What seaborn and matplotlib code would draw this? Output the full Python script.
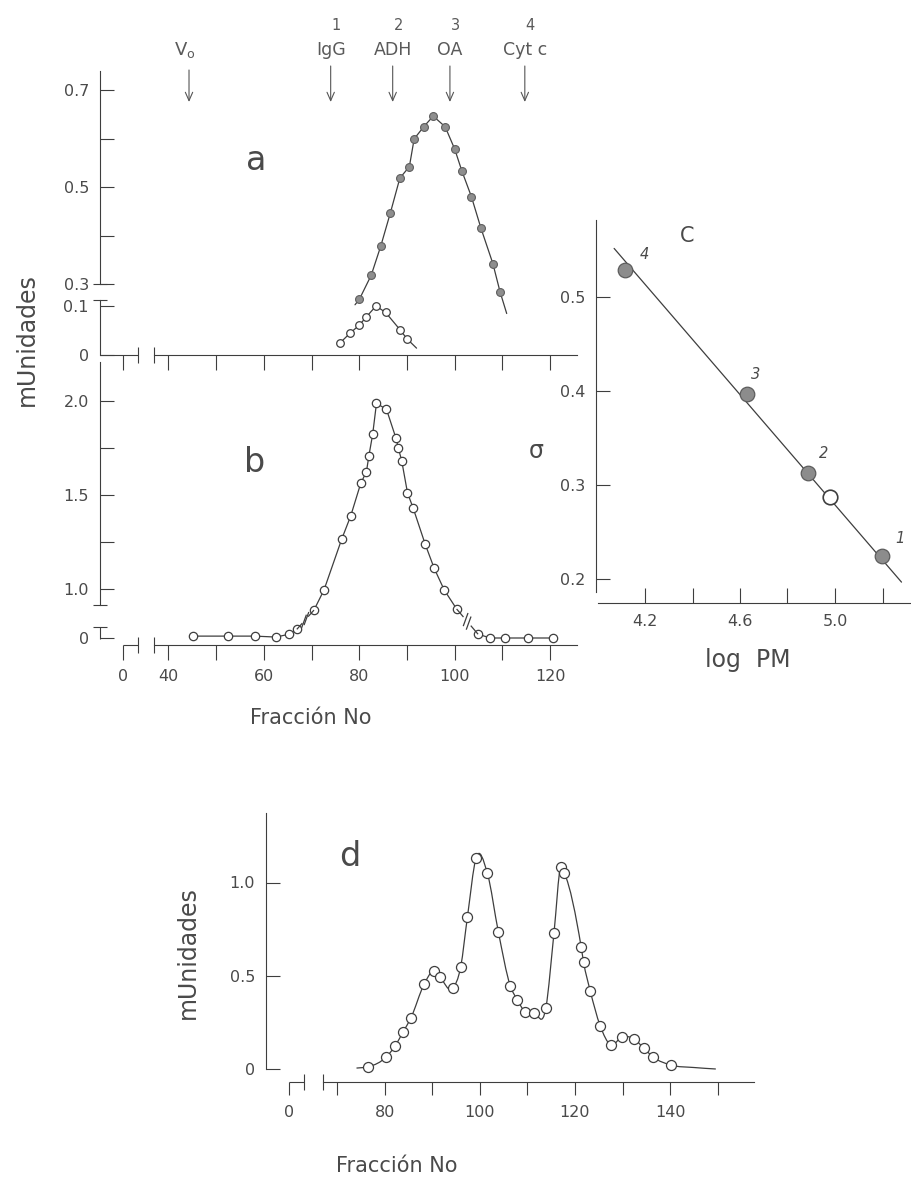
import numpy as np
import matplotlib
matplotlib.use("Agg")
import matplotlib.pyplot as plt
import seaborn as sns
from matplotlib.transforms import blended_transform_factory, IdentityTransform
from matplotlib.lines import Line2D
from matplotlib.path import Path
from matplotlib.patches import PathPatch

# ---------------- data ----------------
# calibration standards: elution fraction (arrows above panel a)
std_numbers = ["1", "2", "3", "4"]
std_names = ["IgG", "ADH", "OA", "Cyt c"]
std_elution = [74.0, 87.0, 99.0, 114.7]
void_elution = 44.3

# panel a: standard mixture (filled) and sample (open)
a_std_frac = [80.0, 82.5, 84.5, 86.5, 88.5, 90.5, 91.5, 93.5, 95.5, 98.0,
              100.0, 101.5, 103.5, 105.5, 108.0, 109.5]
a_std_act = [0.269, 0.319, 0.379, 0.447, 0.519, 0.543, 0.600, 0.625, 0.647, 0.625,
             0.579, 0.534, 0.481, 0.416, 0.343, 0.285]
a_std_trace_frac = [79.1, 110.9]
a_std_trace_act = [0.258, 0.240]
a_smp_frac = [76.0, 78.0, 80.0, 81.5, 83.5, 85.5, 88.5, 90.0]
a_smp_act = [0.025, 0.044, 0.061, 0.078, 0.100, 0.087, 0.052, 0.033]
a_smp_trace_frac = [92.0]
a_smp_trace_act = [0.014]

# panel b
b_frac = [45.2, 52.5, 58.1, 62.5, 65.3, 66.9, 70.5, 72.6, 76.3, 78.2, 80.3, 81.5,
          82.0, 82.8, 83.6, 85.7, 87.7, 88.2, 88.9, 90.1, 91.3, 93.8, 95.7, 97.8,
          100.4, 104.9, 107.5, 110.5, 115.4, 120.7]
b_act = [0.010, 0.010, 0.010, 0.005, 0.020, 0.046, 0.888, 0.995, 1.264, 1.388, 1.561, 1.623,
         1.706, 1.821, 1.986, 1.954, 1.800, 1.747, 1.680, 1.511, 1.429, 1.239, 1.110, 0.995,
         0.894, 0.020, 0.0, 0.0, 0.0, 0.0]

# panel c: partition coefficient vs log molecular weight
c_labels = ["1", "2", "3", "4"]
c_logpm = [5.197, 4.887, 4.628, 4.115]
c_sigma = [0.225, 0.313, 0.397, 0.529]
c_sample_logpm = [4.98]
c_sample_sigma = [0.288]
c_fit_logpm = [4.07, 5.28]
c_fit_sigma = [0.552, 0.197]

# panel d
d_frac = [76.6, 80.4, 82.2, 83.9, 85.5, 88.3, 90.4, 91.6, 94.3, 96.0, 97.4, 99.2,
          101.6, 103.9, 106.4, 107.9, 109.5, 111.4, 113.9, 115.6, 117.0, 117.8, 121.3,
          121.8, 123.2, 125.3, 127.5, 129.9, 132.5, 134.5, 136.5, 140.2]
d_act = [0.012, 0.066, 0.123, 0.200, 0.272, 0.454, 0.527, 0.495, 0.433, 0.549, 0.814, 1.130,
         1.049, 0.736, 0.447, 0.370, 0.307, 0.299, 0.329, 0.731, 1.085, 1.049, 0.655,
         0.575, 0.420, 0.232, 0.129, 0.173, 0.159, 0.111, 0.063, 0.021]
d_lead_frac = [74.1]
d_lead_act = [0.005]
d_tail_frac = [145.0, 149.6]
d_tail_act = [0.008, 0.0]

# ---------------- style ----------------
W, H, DPI = 911, 1181, 100
sns.set_theme(style="white")
plt.rcParams["font.family"] = ["DejaVu Sans"]
plt.rcParams["mathtext.fontset"] = "dejavusans"
INK = "#3e3e3e"
TXT = "#4a4a4a"
LW = 0.9
TICK_FS = 11.5

fig = plt.figure(figsize=(W / DPI, H / DPI), dpi=DPI)
fig.patch.set_facecolor("white")


def px_rect(l, t, r, b):
    return [l / W, 1 - b / H, (r - l) / W, (b - t) / H]


def piecewise(data_knots, view_knots):
    d = np.asarray(data_knots, float)
    v = np.asarray(view_knots, float)
    return (lambda x: np.interp(x, d, v)), (lambda x: np.interp(x, v, d))


def new_axes(rect):
    ax = fig.add_axes(px_rect(*rect))
    ax.patch.set_visible(False)
    for s in ax.spines.values():
        s.set_color(INK)
        s.set_linewidth(0.8)
    ax.spines["top"].set_visible(False)
    ax.spines["right"].set_visible(False)
    ax.grid(False)
    return ax


def style_ticks(ax, ydir="in", xdir="out", xpad=6.5, ypad=8):
    ax.tick_params(axis="y", which="both", direction=ydir, length=10, width=0.8,
                   color=INK, left=True, pad=ypad, labelsize=TICK_FS, labelcolor=TXT)
    ax.tick_params(axis="x", which="both", direction=xdir, length=11, width=0.8,
                   color=INK, bottom=True, pad=xpad, labelsize=TICK_FS, labelcolor=TXT)


def seg(ax, xs, ys, tr):
    ax.plot(xs, ys, transform=tr, color=INK, lw=0.8, clip_on=False,
            solid_capstyle="butt")


def ycap(ax, y, width_px, half=7):
    tr = blended_transform_factory(ax.transAxes, ax.transData)
    f = half / width_px
    seg(ax, [-f, f], [y, y], tr)


def xcap(ax, x, height_px, half=8):
    tr = blended_transform_factory(ax.transData, ax.transAxes)
    f = half / height_px
    seg(ax, [x, x], [-f, f], tr)


def pix_line(p, q, lw=LW):
    fig.add_artist(Line2D([p[0], q[0]], [p[1], q[1]], transform=IdentityTransform(),
                          color=INK, lw=lw, solid_capstyle="butt"))


def broken_link(ax, p_from, p_to):
    a = ax.transData.transform(p_from)
    b = ax.transData.transform(p_to)
    d = b - a
    pix_line(a, a + 0.32 * d)
    pix_line(a + 0.66 * d, b)
    ang = np.deg2rad(70)
    u = np.array([np.cos(ang), np.sin(ang)]) * 7
    for t in (0.42, 0.56):
        c = a + t * d
        pix_line(c - u, c + u)


def hermite_path(xs, ys):
    x = np.asarray(xs, float)
    y = np.asarray(ys, float)
    h = np.diff(x)
    s = np.diff(y) / h
    m = np.empty_like(y)
    m[0], m[-1] = s[0], s[-1]
    m[1:-1] = (s[1:] * h[:-1] + s[:-1] * h[1:]) / (h[:-1] + h[1:])
    verts, codes = [(x[0], y[0])], [Path.MOVETO]
    for i in range(len(x) - 1):
        verts += [(x[i] + h[i] / 3, y[i] + m[i] * h[i] / 3),
                  (x[i + 1] - h[i] / 3, y[i + 1] - m[i + 1] * h[i] / 3),
                  (x[i + 1], y[i + 1])]
        codes += [Path.CURVE4] * 3
    return Path(verts, codes)


def line(ax, xs, ys):
    sns.lineplot(x=xs, y=ys, ax=ax, color=INK, linewidth=LW, sort=False,
                 estimator=None, legend=False)


def dots(ax, xs, ys, s, face="white", edge=INK, lw=LW):
    sns.scatterplot(x=xs, y=ys, ax=ax, s=s, color=face, edgecolor=edge,
                    linewidth=lw, zorder=4, legend=False, clip_on=False)


# fraction axis with a break between 0 and the working range
frac_fwd, frac_inv = piecewise([-1000, 0, 3.1, 37, 1000], [-969.5, 30.5, 33.6, 37, 1000])
frac_ticks = [0, 40, 50, 60, 70, 80, 90, 100, 110, 120]
frac_labels = ["0", "40", "", "60", "", "80", "", "100", "", "120"]
AB_L, AB_R = 100, 580
u_left = 40 + (AB_L - 168.5) / 4.77
u_right = 40 + (AB_R - 168.5) / 4.77
ab_xlim = (float(frac_inv(u_left)), float(frac_inv(u_right)))

# ---------------- panel a ----------------
A_T, A_B = 60, 355
ax_a_hi = new_axes((AB_L, A_T, AB_R, A_B))
ax_a_lo = new_axes((AB_L, A_T, AB_R, A_B))
for ax in (ax_a_hi, ax_a_lo):
    ax.set_xscale("function", functions=(frac_fwd, frac_inv))
    style_ticks(ax)

line(ax_a_hi, [a_std_trace_frac[0]] + a_std_frac + [a_std_trace_frac[1]],
     [a_std_trace_act[0]] + a_std_act + [a_std_trace_act[1]])
dots(ax_a_hi, a_std_frac, a_std_act, s=32, face="#8e8e8e", edge="#5e5e5e", lw=0.8)
line(ax_a_lo, a_smp_frac + a_smp_trace_frac, a_smp_act + a_smp_trace_act)
dots(ax_a_lo, a_smp_frac, a_smp_act, s=30)

ax_a_hi.set_xlim(*ab_xlim)
ax_a_lo.set_xlim(*ab_xlim)
ax_a_hi.set_ylim(0.7 - (A_B - 90.4) / 485, 0.7 + (90.4 - A_T) / 485)
ax_a_lo.set_ylim(0, (A_B - A_T) / 490)

ax_a_hi.spines["bottom"].set_visible(False)
ax_a_hi.tick_params(axis="x", which="both", bottom=False, labelbottom=False)
ax_a_hi.set_yticks([0.3, 0.5, 0.7], ["0.3", "0.5", "0.7"])
ax_a_hi.set_yticks([0.4, 0.6], minor=True)
ax_a_hi.spines["left"].set_bounds(0.3, 0.741)
ycap(ax_a_hi, 0.3, AB_R - AB_L)

ax_a_lo.set_yticks([0, 0.1], ["0", "0.1"])
ax_a_lo.set_yticks([], minor=True)
ax_a_lo.spines["left"].set_bounds(0, 0.112)
ycap(ax_a_lo, 0.112, AB_R - AB_L)
ax_a_lo.set_xticks(frac_ticks, [""] * len(frac_ticks))
ax_a_lo.set_xticks([], minor=True)
ax_a_lo.spines["bottom"].set_bounds(37, float(frac_inv(40 + (577 - 168.5) / 4.77)))
tr = blended_transform_factory(ax_a_lo.transData, ax_a_lo.transAxes)
seg(ax_a_lo, [ab_xlim[0], 3.1], [0, 0], tr)
xcap(ax_a_lo, 3.1, A_B - A_T)
xcap(ax_a_lo, 37, A_B - A_T)
ax_a_lo.set_xlim(*ab_xlim)
ax_a_lo.set_ylim(0, (A_B - A_T) / 490)

# elution markers above panel a
for xe, num, name in zip(std_elution, std_numbers, std_names):
    ax_a_hi.annotate("", xy=(xe, H - 102), xycoords=("data", "figure pixels"),
                     xytext=(xe, H - 66), textcoords=("data", "figure pixels"),
                     arrowprops=dict(arrowstyle="->,head_length=0.5,head_width=0.22",
                                     color="#555555", lw=0.8, mutation_scale=12,
                                     shrinkA=0, shrinkB=0))
    ax_a_hi.annotate(name, xy=(xe, H - 50), xycoords=("data", "figure pixels"),
                     ha="center", va="center", fontsize=12.5, color="#5a5a5a")
    ax_a_hi.annotate(num, xy=(xe, H - 25), xycoords=("data", "figure pixels"),
                     xytext=(4, 0), textcoords="offset points",
                     ha="center", va="center", fontsize=10.5, color="#5a5a5a")
ax_a_hi.annotate("", xy=(void_elution, H - 102), xycoords=("data", "figure pixels"),
                 xytext=(void_elution, H - 70), textcoords=("data", "figure pixels"),
                 arrowprops=dict(arrowstyle="->,head_length=0.5,head_width=0.22",
                                 color="#555555", lw=0.8, mutation_scale=12,
                                 shrinkA=0, shrinkB=0))
ax_a_hi.annotate(r"V$_{\rm o}$", xy=(void_elution, H - 50),
                 xycoords=("data", "figure pixels"), xytext=(-3, 0),
                 textcoords="offset points", ha="center", va="center",
                 fontsize=13, color="#5a5a5a")

# ---------------- panel b ----------------
B_T, B_B = 358, 645
b_fwd, b_inv = piecewise([-1000, 0.07, 0.86, 1000], [-1000 + 0.7398, 0.8098, 0.86, 1000])
ax_b = new_axes((AB_L, B_T, AB_R, B_B))
ax_b.set_xscale("function", functions=(frac_fwd, frac_inv))
ax_b.set_yscale("function", functions=(b_fwd, b_inv))
style_ticks(ax_b)

low = np.asarray(b_act) < 0.07
runs, start = [], 0
for i in range(1, len(b_act)):
    if low[i] != low[i - 1]:
        runs.append((start, i))
        start = i
runs.append((start, len(b_act)))
for s0, s1 in runs:
    line(ax_b, b_frac[s0:s1], b_act[s0:s1])
dots(ax_b, b_frac, b_act, s=36)

v_bot = 2.0 - (B_B - 400.7) / 188.3
v_top = 2.0 + (400.7 - B_T) / 188.3
b_ylim = (float(b_inv(v_bot)), float(b_inv(v_top)))
ax_b.set_xlim(*ab_xlim)
ax_b.set_ylim(*b_ylim)
ax_b.set_yticks([0, 1.0, 1.5, 2.0], ["0", "1.0", "1.5", "2.0"])
ax_b.set_yticks([1.25, 1.75], minor=True)
ax_b.set_xticks(frac_ticks, frac_labels)
ax_b.set_xticks([], minor=True)
ax_b.spines["left"].set_bounds(0.915, 2.205)
ycap(ax_b, 0.915, AB_R - AB_L)
trl = blended_transform_factory(ax_b.transAxes, ax_b.transData)
seg(ax_b, [0, 0], [-0.004, 0.06], trl)
ycap(ax_b, 0.06, AB_R - AB_L)
ax_b.spines["bottom"].set_bounds(37, float(frac_inv(40 + (577 - 168.5) / 4.77)))
trb = blended_transform_factory(ax_b.transData, ax_b.transAxes)
seg(ax_b, [0, 3.1], [0, 0], trb)
xcap(ax_b, 3.1, B_B - B_T)
xcap(ax_b, 37, B_B - B_T)
ax_b.set_xlim(*ab_xlim)
ax_b.set_ylim(*b_ylim)
for (s0, s1), (t0, t1) in zip(runs[:-1], runs[1:]):
    broken_link(ax_b, (b_frac[s1 - 1], b_act[s1 - 1]), (b_frac[t0], b_act[t0]))

# ---------------- panel c ----------------
C_L, C_T, C_R, C_B = 596, 215, 911, 603.3
ax_c = new_axes((C_L, C_T, C_R, C_B))
style_ticks(ax_c, ydir="in", xdir="in", xpad=8)
line(ax_c, c_fit_logpm, c_fit_sigma)
dots(ax_c, c_logpm, c_sigma, s=110, face="#8c8c8c", edge="#5c5c5c", lw=0.9)
dots(ax_c, c_sample_logpm, c_sample_sigma, s=110, face="white", edge=INK, lw=1.2)
for lx, ly, lab, off in zip(c_logpm, c_sigma, c_labels,
                            [(10, 9), (8, 11), (3, 11), (11, 8)]):
    ax_c.annotate(lab, (lx, ly), xytext=off, textcoords="offset points",
                  fontsize=10.5, color=TXT, style="italic")
ax_c.set_xlim(4.2 - (645 - C_L) / 237.5, 4.2 + (C_R - 645) / 237.5)
ax_c.set_ylim(0.5 - (C_B - 297.3) / 940, 0.5 + (297.3 - C_T) / 940)
ax_c.set_xticks([4.2, 4.4, 4.6, 4.8, 5.0, 5.2], ["4.2", "", "4.6", "", "5.0", ""])
ax_c.set_yticks([0.2, 0.3, 0.4, 0.5], ["0.2", "0.3", "0.4", "0.5"])
ax_c.spines["left"].set_bounds(0.186, 0.582)
ax_c.spines["bottom"].set_bounds(4.002, 5.315)

# ---------------- panel d ----------------
D_L, D_T, D_R, D_B = 266, 800, 760, 1082
d_fwd, d_inv = piecewise([-1000, 0, 3.2, 67, 1000], [-940.1, 59.9, 63.1, 67, 1000])
ax_d = new_axes((D_L, D_T, D_R, D_B))
ax_d.set_xscale("function", functions=(d_fwd, d_inv))
style_ticks(ax_d, xpad=7)
ax_d.tick_params(axis="x", length=9.5)
curve = hermite_path(d_lead_frac + d_frac + d_tail_frac, d_lead_act + d_act + d_tail_act)
ax_d.add_patch(PathPatch(curve, fill=False, edgecolor=INK, lw=LW, zorder=2))
dots(ax_d, d_frac, d_act, s=52)
d_xlim = (float(d_inv(70 + (D_L - 337) / 4.759)), float(d_inv(70 + (D_R - 337) / 4.759)))
d_ylim = ((1069 - D_B) / 186.5, (1069 - D_T) / 186.5)
ax_d.set_xlim(*d_xlim)
ax_d.set_ylim(*d_ylim)
ax_d.set_xticks([0, 70, 80, 90, 100, 110, 120, 130, 140, 150],
                ["0", "", "80", "", "100", "", "120", "", "140", ""])
ax_d.set_xticks([], minor=True)
ax_d.set_yticks([0, 0.5, 1.0], ["0", "0.5", "1.0"])
ax_d.set_yticks([], minor=True)
ax_d.spines["left"].set_bounds(0, 1.37)
ax_d.spines["bottom"].set_bounds(67, 157.7)
trd = blended_transform_factory(ax_d.transData, ax_d.transAxes)
seg(ax_d, [0, 3.2], [0, 0], trd)
xcap(ax_d, 3.2, D_B - D_T)
xcap(ax_d, 67, D_B - D_T)
ax_d.set_xlim(*d_xlim)
ax_d.set_ylim(*d_ylim)

# ---------------- text ----------------
def ftext(x, y, s, **kw):
    kw.setdefault("color", TXT)
    kw.setdefault("ha", "center")
    kw.setdefault("va", "center")
    fig.text(x / W, 1 - y / H, s, **kw)


ftext(256, 160, "a", fontsize=24)
ftext(255, 463, "b", fontsize=24)
ftext(687, 236, "C", fontsize=15)
ftext(350, 857, "d", fontsize=24)
ftext(536, 451, "σ", fontsize=17)
ftext(27, 340, "mUnidades", fontsize=17, rotation=90)
ftext(188, 953, "mUnidades", fontsize=17, rotation=90)
ftext(311, 718, "Fracción No", fontsize=15)
ftext(397, 1166, "Fracción No", fontsize=15)
ftext(748, 660, "log  PM", fontsize=17)

fig.savefig("out.png", dpi=DPI, facecolor="white")
